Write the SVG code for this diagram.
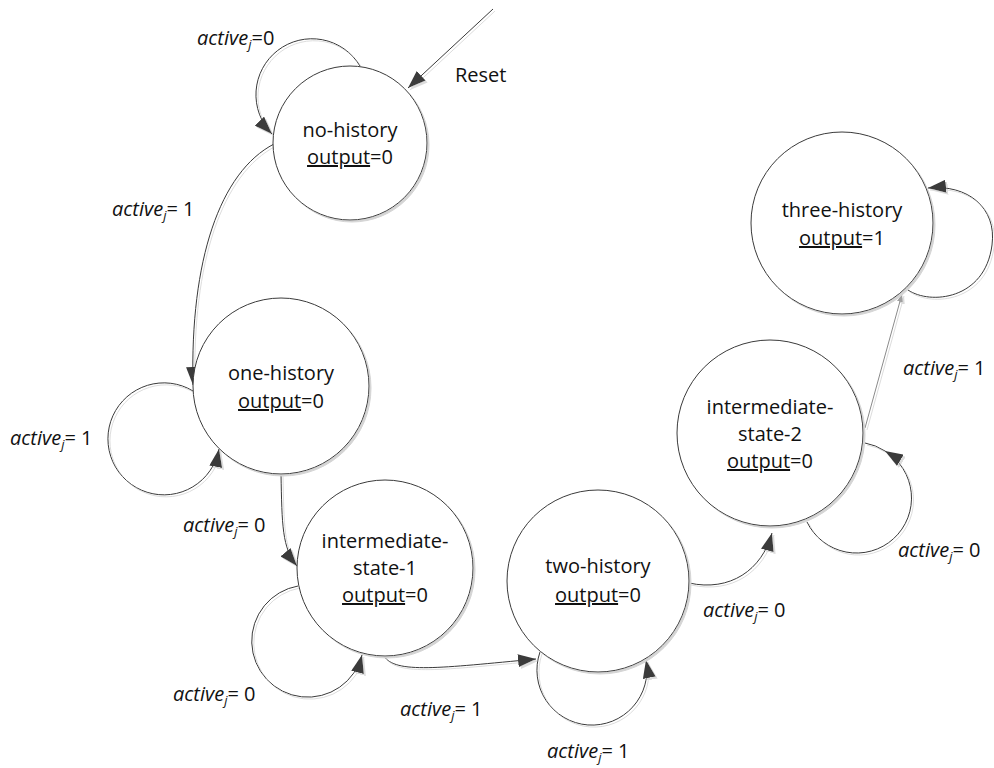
<svg xmlns="http://www.w3.org/2000/svg" width="994" height="768" viewBox="0 0 994 768">
<style>
  .node { fill: #ffffff; stroke: #3a3a3a; stroke-width: 1; }
  .conn { fill: none; stroke: #3a3a3a; stroke-width: 1; }
  .conn-light { fill: none; stroke: #8a8a8a; stroke-width: 1; }
  .t { font-family: "Open Sans", "Liberation Sans", sans-serif; font-size: 20px; fill: #111; }
  .lbl { font-family: "Open Sans", "Liberation Sans", sans-serif; font-size: 20px; fill: #111; }
  .it { font-style: italic; }
  .sub { font-style: italic; font-size: 13px; }
  .u { text-decoration: underline; }
</style>
<defs>
  <filter id="shadow" x="-10%" y="-10%" width="125%" height="125%">
    <feOffset in="SourceAlpha" dx="2" dy="2" result="off"/>
    <feFlood flood-color="#d4d4d4"/>
    <feComposite in2="off" operator="in" result="sh"/>
    <feMerge><feMergeNode in="sh"/><feMergeNode in="SourceGraphic"/></feMerge>
  </filter>
  <filter id="lshadow" x="-10%" y="-10%" width="125%" height="125%">
    <feOffset in="SourceAlpha" dx="1.5" dy="1.5" result="off"/>
    <feFlood flood-color="#dcdcdc"/>
    <feComposite in2="off" operator="in" result="sh"/>
    <feMerge><feMergeNode in="sh"/><feMergeNode in="SourceGraphic"/></feMerge>
  </filter>
  <marker id="arrow" markerUnits="userSpaceOnUse" viewBox="0 0 18 13" refX="18" refY="6.5" markerWidth="18" markerHeight="13" orient="auto">
    <path d="M0,0 L18,6.5 L0,13 z" fill="#3a3a3a"/>
  </marker>
  <marker id="arrowSmall" markerUnits="userSpaceOnUse" viewBox="0 0 8 6" refX="8" refY="3" markerWidth="8" markerHeight="6" orient="auto">
    <path d="M0,0 L8,3 L0,6 z" fill="#a0a0a0"/>
  </marker>
</defs>

<g id="connectors" filter="url(#lshadow)">
  <path id="c-reset" class="conn" d="M493,9 L408,88" marker-end="url(#arrow)"/>
  <path id="c-nh-loop" class="conn" d="M360,66 A56,56 0 1 0 272,134" marker-end="url(#arrow)"/>
  <path id="c-nh-oh" class="conn" d="M274,144 C220,172 190,260 193,385" marker-end="url(#arrow)"/>
  <path id="c-oh-loop" class="conn" d="M193,391 A56,56 0 1 0 219,449" marker-end="url(#arrow)"/>
  <path id="c-oh-is1" class="conn" d="M281,474 C282,525 282,548 297,566" marker-end="url(#arrow)"/>
  <path id="c-is1-loop" class="conn" d="M298,586 A56,56 0 1 0 362,655" marker-end="url(#arrow)"/>
  <path id="c-is1-th" class="conn" d="M384,656 C395,674 440,668 536,659" marker-end="url(#arrow)"/>
  <path id="c-th-loop" class="conn" d="M540,652 A55,55 0 1 0 646,660" marker-end="url(#arrow)"/>
  <path id="c-th-is2" class="conn" d="M689,583 C730,592 762,570 772,533" marker-end="url(#arrow)"/>
  <path id="c-is2-loop" class="conn" d="M807,522 A55,55 0 1 0 885,451" marker-end="url(#arrow)"/>
  <path id="c-is2-loop-tail" class="conn" d="M885,451 A55,55 0 0 0 865,443"/>
  <path id="c-is2-3h" class="conn-light" d="M865,428 L902,294" marker-end="url(#arrowSmall)"/>
  <path id="c-3h-loop" class="conn" d="M908,290 C930,305 985,300 992,245 C997,208 968,184 928,188" marker-end="url(#arrow)"/>
</g>

<g id="labels">
  <text class="lbl" x="455" y="82">Reset</text>
  <text class="lbl" x="197" y="45"><tspan class="it">active</tspan><tspan class="sub" dy="4">j</tspan><tspan dy="-4">=0</tspan></text>
  <text class="lbl" x="112" y="216"><tspan class="it">active</tspan><tspan class="sub" dy="4">j</tspan><tspan dy="-4">= 1</tspan></text>
  <text class="lbl" x="10" y="445"><tspan class="it">active</tspan><tspan class="sub" dy="4">j</tspan><tspan dy="-4">= 1</tspan></text>
  <text class="lbl" x="183" y="532"><tspan class="it">active</tspan><tspan class="sub" dy="4">j</tspan><tspan dy="-4">= 0</tspan></text>
  <text class="lbl" x="173" y="701"><tspan class="it">active</tspan><tspan class="sub" dy="4">j</tspan><tspan dy="-4">= 0</tspan></text>
  <text class="lbl" x="400" y="716"><tspan class="it">active</tspan><tspan class="sub" dy="4">j</tspan><tspan dy="-4">= 1</tspan></text>
  <text class="lbl" x="547" y="758"><tspan class="it">active</tspan><tspan class="sub" dy="4">j</tspan><tspan dy="-4">= 1</tspan></text>
  <text class="lbl" x="703" y="617"><tspan class="it">active</tspan><tspan class="sub" dy="4">j</tspan><tspan dy="-4">= 0</tspan></text>
  <text class="lbl" x="898" y="557"><tspan class="it">active</tspan><tspan class="sub" dy="4">j</tspan><tspan dy="-4">= 0</tspan></text>
  <text class="lbl" x="903" y="375"><tspan class="it">active</tspan><tspan class="sub" dy="4">j</tspan><tspan dy="-4">= 1</tspan></text>
</g>

<g id="no-history">
  <circle class="node" cx="350" cy="143" r="77" filter="url(#shadow)"/>
  <text class="t" text-anchor="middle"><tspan x="350" y="137">no-history</tspan><tspan x="350" y="164"><tspan class="u">output</tspan>=0</tspan></text>
</g>

<g id="one-history">
  <circle class="node" cx="281" cy="386" r="88" filter="url(#shadow)"/>
  <text class="t" text-anchor="middle"><tspan x="281" y="380">one-history</tspan><tspan x="281" y="408"><tspan class="u">output</tspan>=0</tspan></text>
</g>

<g id="intermediate-state-1">
  <circle class="node" cx="385" cy="568" r="88" filter="url(#shadow)"/>
  <text class="t" text-anchor="middle"><tspan x="385" y="548">intermediate-</tspan><tspan x="385" y="575">state-1</tspan><tspan x="385" y="602"><tspan class="u">output</tspan>=0</tspan></text>
</g>

<g id="two-history">
  <circle class="node" cx="598" cy="581" r="91" filter="url(#shadow)"/>
  <text class="t" text-anchor="middle"><tspan x="598" y="573">two-history</tspan><tspan x="598" y="602"><tspan class="u">output</tspan>=0</tspan></text>
</g>

<g id="intermediate-state-2">
  <circle class="node" cx="770" cy="433" r="93" filter="url(#shadow)"/>
  <text class="t" text-anchor="middle"><tspan x="770" y="414">intermediate-</tspan><tspan x="770" y="441">state-2</tspan><tspan x="770" y="468"><tspan class="u">output</tspan>=0</tspan></text>
</g>

<g id="three-history">
  <circle class="node" cx="842" cy="223" r="91" filter="url(#shadow)"/>
  <text class="t" text-anchor="middle"><tspan x="842" y="217">three-history</tspan><tspan x="842" y="245"><tspan class="u">output</tspan>=1</tspan></text>
</g>
</svg>
